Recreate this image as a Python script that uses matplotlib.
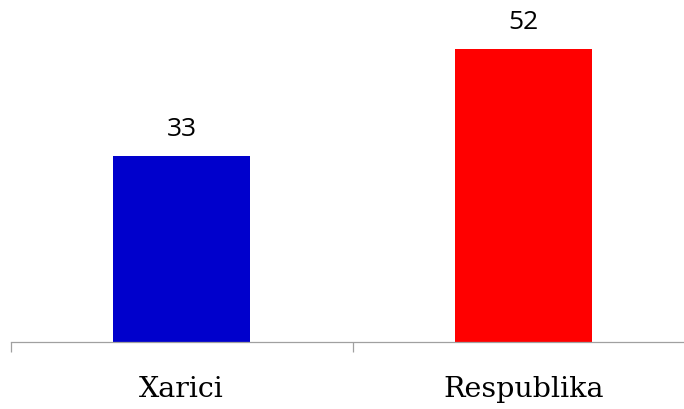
import matplotlib.pyplot as plt
import numpy as np

categories = ["Xarici", "Respublika"]
values = [33, 52]
colors = ["#0000CC", "#FF0000"]

fig = plt.figure(figsize=(6.84, 4.10), dpi=100)
# axes runs a bit past the right edge so the category boundaries land where they should
ax = fig.add_axes([10.5 / 684, 67 / 410, 684 / 684, 338 / 410])

x = np.arange(len(categories))
bars = ax.bar(x, values, width=0.4, color=colors)

for xi, v in zip(x, values):
    ax.annotate(str(v), (xi, v), xytext=(0, 15), textcoords="offset points",
                ha="center", va="baseline", fontsize=19, family="Open Sans")

ax.set_xlim(-0.5, 1.5)
ax.set_ylim(0, 60)

for side in ["top", "right", "left"]:
    ax.spines[side].set_visible(False)
ax.spines["bottom"].set_color("#A0A0A0")
ax.spines["bottom"].set_linewidth(0.9)
ax.set_yticks([])

# boundary ticks between categories, labels on minor ticks at the bar centres
ax.set_xticks([-0.5, 0.5, 1.5])
ax.set_xticklabels([])
ax.tick_params(axis="x", which="major", length=7.5, width=0.9, color="#A0A0A0")
ax.set_xticks(x, minor=True)
ax.set_xticklabels(categories, minor=True, fontsize=20.5, family="DejaVu Serif")
ax.tick_params(axis="x", which="minor", length=0, pad=24)

fig.savefig("out.png", dpi=100)
